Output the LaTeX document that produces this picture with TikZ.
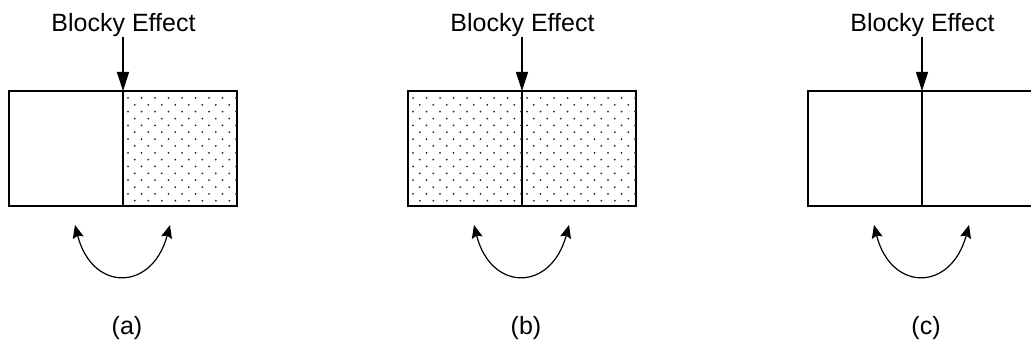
\documentclass[tikz,border=0pt]{standalone}
\usepackage{fontspec}
\setmainfont{Liberation Sans}
\usetikzlibrary{arrows.meta, positioning}

\tikzset{
  half/.style={draw, line width=1.2pt, minimum width=114pt, minimum height=115pt,
               inner sep=0pt, outer sep=0pt},
  ttl/.style={font=\fontsize{25}{30}\selectfont, inner sep=0pt},
}
% staggered dot screen inside a half block
\newcommand{\speckle}[1]{%
  \begin{scope}
    \clip (#1.south west) rectangle (#1.north east);
    \begin{scope}[shift={(#1.north west)}]
      \foreach \r in {0,...,16}
        \foreach \c in {0,...,8}
          \fill[black!85] ({5+\c*13.5+mod(\r,2)*6.75}, {7+\r*6.85}) circle (1pt);
    \end{scope}
  \end{scope}}

\begin{document}
\begin{tikzpicture}[x=1pt, y=-1pt, >=Stealth]
  \useasboundingbox (0,0) rectangle (1031,347);
  \foreach \off/\tag/\dl/\dr in {0/a/0/1, 399/b/1/1, 799/c/0/0} {
    \node[half] (L\tag) at (\off+66, 148.5) {};
    \node[half, right=0pt of L\tag] (R\tag) {};
    \ifnum\dl=1 \speckle{L\tag}\fi
    \ifnum\dr=1 \speckle{R\tag}\fi
    \node[ttl, anchor=base] (txt\tag) at (\off+123.5, 32) {Blocky Effect};
    \draw[line width=1.2pt, -{Triangle[length=19pt, width=12pt]}]
      (txt\tag.south -| L\tag.north east) -- (L\tag.north east);
    \coordinate (tl\tag) at (\off+75, 225);
    \coordinate (tr\tag) at (\off+170, 225);
    \draw[line width=1.2pt, {Stealth[length=13pt, width=11pt, inset=2pt]}-{Stealth[length=13pt, width=11pt, inset=2pt]}]
      (tl\tag) .. controls (\off+92, 292) and (\off+152, 292) .. (tr\tag);
    \node[ttl, anchor=base] (lab\tag) at (\off+127, 335) {(\tag)};
  }
\end{tikzpicture}
\end{document}
